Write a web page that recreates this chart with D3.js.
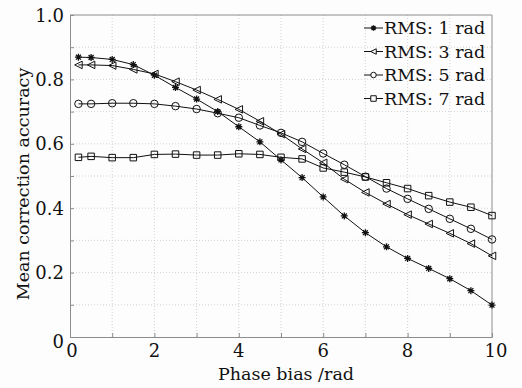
<!DOCTYPE html>
<html>
<head>
<meta charset="utf-8">
<script src="https://cdn.jsdelivr.net/npm/d3@7"></script>
<style>
  html, body { margin: 0; padding: 0; background: #fdfdfd; }
  svg { display: block; }
</style>
</head>
<body>
<div id="chart"></div>
<script>
(function () {
  'use strict';

  // Phase bias values (rad)
  var phaseBias = [0.2, 0.5, 1, 1.5, 2, 2.5, 3, 3.5, 4, 4.5, 5, 5.5, 6, 6.5, 7, 7.5, 8, 8.5, 9, 9.5, 10];

  var rms1 = [0.869, 0.868, 0.862, 0.846, 0.813, 0.775, 0.739, 0.700, 0.653, 0.606, 0.550,
              0.495, 0.435, 0.376, 0.324, 0.280, 0.244, 0.213, 0.181, 0.144, 0.099];
  var rms3 = [0.845, 0.845, 0.843, 0.831, 0.817, 0.793, 0.767, 0.738, 0.707, 0.670, 0.630,
              0.584, 0.541, 0.490, 0.449, 0.413, 0.380, 0.351, 0.322, 0.290, 0.252];
  var rms5 = [0.724, 0.724, 0.726, 0.726, 0.724, 0.717, 0.708, 0.695, 0.681, 0.657, 0.634,
              0.606, 0.570, 0.535, 0.498, 0.461, 0.429, 0.398, 0.367, 0.336, 0.303];
  var rms7 = [0.558, 0.561, 0.557, 0.557, 0.567, 0.568, 0.565, 0.565, 0.569, 0.567, 0.558,
              0.553, 0.525, 0.512, 0.497, 0.479, 0.461, 0.439, 0.419, 0.403, 0.377];

  var seriesNames = ['RMS: 1 rad', 'RMS: 3 rad', 'RMS: 5 rad', 'RMS: 7 rad'];
  var seriesValues = [rms1, rms3, rms5, rms7];
  var markers = ['star', 'triangle', 'circle', 'square'];

  var xTickLabels = [0, 2, 4, 6, 8, 10];
  var yTickLabels = [0, 0.2, 0.4, 0.6, 0.8, 1.0];

  var width = 522;
  var height = 388;
  var margin = { top: 15, right: 30, bottom: 51, left: 70 };
  var font = '"DejaVu Serif", "Liberation Serif", serif';
  var axisColor = '#8c8c8c';

  var x = d3.scaleLinear().domain([0, 10]).range([margin.left, width - margin.right]);
  var y = d3.scaleLinear().domain([0, 1]).range([height - margin.bottom, margin.top]);

  var svg = d3.select('#chart')
      .append('svg')
      .attr('width', width)
      .attr('height', height)
      .style('background', '#fdfdfd');

  // grid
  var grid = svg.append('g');
  grid.selectAll('.vg').data(d3.range(1, 10))
      .enter().append('line')
      .attr('x1', function(d) { return x(d); })
      .attr('x2', function(d) { return x(d); })
      .attr('y1', y(0)).attr('y2', y(1))
      .attr('stroke', '#c8c8c8').attr('stroke-width', 0.8)
      .attr('stroke-dasharray', '1,2');
  grid.selectAll('.hg').data(d3.range(1, 10).map(function(d) { return d / 10; }))
      .enter().append('line')
      .attr('y1', function(d) { return y(d); })
      .attr('y2', function(d) { return y(d); })
      .attr('x1', x(0)).attr('x2', x(10))
      .attr('stroke', '#c8c8c8').attr('stroke-width', 0.8)
      .attr('stroke-dasharray', '1,2');

  // axes, ticks inward
  var xAxis = svg.append('g')
      .attr('transform', 'translate(0,' + y(0) + ')')
      .call(d3.axisBottom(x).tickValues(d3.range(0, 11)).tickSize(-4).tickFormat(''));
  var yAxis = svg.append('g')
      .attr('transform', 'translate(' + x(0) + ',0)')
      .call(d3.axisLeft(y).tickValues(d3.range(0, 11).map(function(d) { return d / 10; })).tickSize(-4).tickFormat(''));
  [xAxis, yAxis].forEach(function(g) {
    g.selectAll('line').attr('stroke', axisColor);
    g.select('.domain').attr('stroke', axisColor);
  });

  // top and right frame
  svg.append('path')
      .attr('d', 'M' + x(0) + ',' + y(1) + 'H' + x(10) + 'V' + y(0))
      .attr('fill', 'none')
      .attr('stroke', axisColor);

  // tick labels
  svg.selectAll('.xl').data(xTickLabels)
      .enter().append('text')
      .attr('x', function(d) { return x(d) + (d === 0 ? 2 : d === 10 ? 4 : 0); })
      .attr('y', y(0) + 20)
      .attr('text-anchor', 'middle')
      .style('font-family', font).style('font-size', '18px').style('fill', '#111')
      .text(function(d) { return d; });

  svg.selectAll('.yl').data(yTickLabels)
      .enter().append('text')
      .attr('x', x(0) - 6)
      .attr('y', function(d) { return y(d) + (d === 0 ? 11 : 6.5); })
      .attr('text-anchor', 'end')
      .style('font-family', font).style('font-size', '18px').style('fill', '#111')
      .text(function(d) { return d === 0 ? '0' : d3.format('.1f')(d); });

  // axis titles
  svg.append('text')
      .attr('x', (x(0) + x(10)) / 2 + 5)
      .attr('y', 380)
      .attr('text-anchor', 'middle')
      .style('font-family', font).style('font-size', '17.5px').style('fill', '#111')
      .text('Phase bias /rad');

  svg.append('text')
      .attr('transform', 'translate(29,' + 184 + ') rotate(-90)')
      .attr('text-anchor', 'middle')
      .style('font-family', font).style('font-size', '17.5px').style('fill', '#111')
      .text('Mean correction accuracy');

  function markerPath(type, s) {
    var r = s / 2;
    if (type === 'triangle') {
      return 'M' + (-r) + ',0L' + r + ',' + (-r) + 'L' + r + ',' + r + 'Z';
    }
    if (type === 'square') {
      return 'M' + (-r) + ',' + (-r) + 'H' + r + 'V' + r + 'H' + (-r) + 'Z';
    }
    if (type === 'circle') {
      return 'M' + r + ',0A' + r + ',' + r + ' 0 1,1 ' + (-r) + ',0A' + r + ',' + r + ' 0 1,1 ' + r + ',0Z';
    }
    // asterisk
    var d = '';
    for (var i = 0; i < 4; i++) {
      var a = i * Math.PI / 4;
      d += 'M' + (-r * Math.cos(a)) + ',' + (-r * Math.sin(a)) + 'L' + (r * Math.cos(a)) + ',' + (r * Math.sin(a));
    }
    return d;
  }

  var line = d3.line()
      .x(function(d) { return x(d[0]); })
      .y(function(d) { return y(d[1]); });

  seriesValues.forEach(function(vals, si) {
    var pts = phaseBias.map(function(p, i) { return [p, vals[i]]; });
    var g = svg.append('g');
    g.append('path')
        .attr('d', line(pts))
        .attr('fill', 'none')
        .attr('stroke', '#111')
        .attr('stroke-width', 1);
    g.selectAll('path.m').data(pts)
        .enter().append('path')
        .attr('class', 'm')
        .attr('transform', function(d) { return 'translate(' + x(d[0]) + ',' + y(d[1]) + ')'; })
        .attr('d', markerPath(markers[si], markers[si] === 'star' ? 7 : markers[si] === 'square' ? 6.5 : 7.5))
        .attr('fill', markers[si] === 'star' ? '#111' : 'none')
        .attr('stroke', '#111')
        .attr('stroke-width', markers[si] === 'star' ? 1.3 : 1);
  });

  // legend
  var legend = svg.append('g');
  seriesNames.forEach(function(name, i) {
    var ly = 28 + i * 23.5;
    legend.append('line')
        .attr('x1', 364).attr('x2', 383)
        .attr('y1', ly).attr('y2', ly)
        .attr('stroke', '#111');
    legend.append('path')
        .attr('transform', 'translate(373.5,' + ly + ')')
        .attr('d', markerPath(markers[i], 5.5))
        .attr('fill', markers[i] === 'star' ? '#111' : '#fdfdfd')
        .attr('stroke', '#111')
        .attr('stroke-width', markers[i] === 'star' ? 1.3 : 1);
    legend.append('text')
        .attr('x', 384)
        .attr('y', ly + 6)
        .style('font-family', font).style('font-size', '17.5px').style('fill', '#111')
        .text(name);
  });
})();
</script>
</body>
</html>
